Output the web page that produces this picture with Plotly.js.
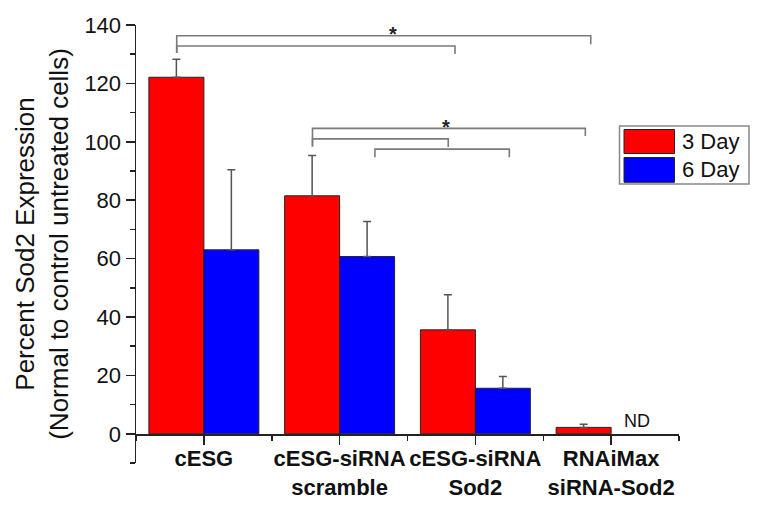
<!DOCTYPE html>
<html>
<head>
<meta charset="utf-8">
<script src="https://cdn.plot.ly/plotly-3.0.1.min.js"></script>
<style>
  html, body { margin: 0; padding: 0; background: #fff; }
  #chart { width: 765px; height: 509px; }
</style>
</head>
<body>
<div id="chart"></div>
<script>
// ---- data ----
var categories = ['cESG', 'cESG-siRNA<br>scramble', 'cESG-siRNA<br>Sod2', 'RNAiMax<br>siRNA-Sod2'];
var seriesNames = ['3 Day', '6 Day'];
var day3 = [122.1, 81.5, 35.6, 2.2];
var day3Err = [6.2, 13.8, 12.0, 1.1];
var day6 = [63.0, 60.7, 15.6, null];
var day6Err = [27.4, 12.0, 4.0, null];
var yTickVals = [0, 20, 40, 60, 80, 100, 120, 140];
var notDetectedLabel = 'ND';
// significance brackets: [xLeft, xRight, yLine, yLeftEnd, yRightEnd] in category/data units
var brackets = [
  [-0.2, 2.85, 136.3, 130.4, 133.4],
  [-0.2, 1.85, 132.8, 130.4, 130.1],
  [0.8, 2.81, 104.6, 98.4, 102.0],
  [0.8, 1.8, 101.0, 98.4, 98.2],
  [1.26, 2.25, 97.5, 94.7, 94.7]
];
// significance stars: [x, y]
var stars = [[1.39, 136.8], [1.78, 105.1]];

// ---- styles ----
var FONT = 'Arial, "Liberation Sans", sans-serif';
var RED = '#ff0000', BLUE = '#0000ff';
var AXIS = '#222222';
var catIdx = categories.map(function (_, i) { return i; });

// plot-area box in pixels (for legend placement in paper coordinates)
var L = 136, R = 679, T = 25, B = 463;
function px(x) { return (x - L) / (R - L); }
function py(y) { return (B - y) / (B - T); }

function zerosLike(a) { return a.map(function () { return 0; }); }

var traces = [
  {
    type: 'bar', name: seriesNames[0], x: catIdx, y: day3,
    marker: { color: RED, line: { color: '#222', width: 1 } },
    error_y: { type: 'data', symmetric: false, array: day3Err, arrayminus: zerosLike(day3Err),
               color: '#555', thickness: 1.5, width: 4 },
    hoverinfo: 'y'
  },
  {
    type: 'bar', name: seriesNames[1], x: catIdx, y: day6,
    marker: { color: BLUE, line: { color: '#222', width: 1 } },
    error_y: { type: 'data', symmetric: false, array: day6Err, arrayminus: zerosLike(day6Err),
               color: '#555', thickness: 1.5, width: 4 },
    hoverinfo: 'y'
  }
];

var shapes = [];
brackets.forEach(function (b) {
  shapes.push({
    type: 'path', xref: 'x', yref: 'y',
    path: 'M' + b[0] + ',' + b[3] + ' L' + b[0] + ',' + b[2] + ' L' + b[1] + ',' + b[2] + ' L' + b[1] + ',' + b[4],
    line: { color: '#7a7a7a', width: 1.6 }
  });
});

// custom legend (box + swatches)
shapes.push({ type: 'rect', xref: 'paper', yref: 'paper',
  x0: px(619.5), x1: px(749), y0: py(184), y1: py(126),
  line: { color: '#888', width: 1.5 }, fillcolor: '#fff' });
shapes.push({ type: 'rect', xref: 'paper', yref: 'paper',
  x0: px(624), x1: px(674.5), y0: py(153.5), y1: py(129.5),
  line: { color: '#222', width: 1 }, fillcolor: RED });
shapes.push({ type: 'rect', xref: 'paper', yref: 'paper',
  x0: px(624), x1: px(674.5), y0: py(182.3), y1: py(157.5),
  line: { color: '#222', width: 1 }, fillcolor: BLUE });

var annotations = [];
stars.forEach(function (s) {
  annotations.push({ x: s[0], y: s[1], xref: 'x', yref: 'y', text: '*', showarrow: false,
    xanchor: 'center', yanchor: 'middle', font: { family: FONT, size: 20, color: '#222', weight: 'bold' } });
});
annotations.push({ x: 3.19, y: 0, xref: 'x', yref: 'y', text: notDetectedLabel, showarrow: false,
  xanchor: 'center', yanchor: 'bottom', yshift: 1, font: { family: FONT, size: 18, color: '#111' } });
annotations.push({ x: px(680), y: py(141.5), xref: 'paper', yref: 'paper', text: seriesNames[0], showarrow: false,
  xanchor: 'left', yanchor: 'middle', font: { family: FONT, size: 22, color: '#111' } });
annotations.push({ x: px(680), y: py(170), xref: 'paper', yref: 'paper', text: seriesNames[1], showarrow: false,
  xanchor: 'left', yanchor: 'middle', font: { family: FONT, size: 22, color: '#111' } });

var layout = {
  width: 765, height: 509,
  margin: { l: L, r: 765 - R, t: T, b: 509 - B, pad: 0 },
  paper_bgcolor: '#fff', plot_bgcolor: '#fff',
  showlegend: false,
  barmode: 'group', bargap: 0.19, bargroupgap: 0,
  font: { family: FONT, color: '#111' },
  xaxis: {
    type: 'linear', range: [-0.5, 3.5], anchor: 'free', position: (B - 434) / (B - T),
    tickmode: 'array', tickvals: catIdx, ticktext: categories, tickangle: 0,
    ticks: 'outside', ticklen: 9, tickwidth: 1.5, tickcolor: AXIS,
    showline: true, linecolor: AXIS, linewidth: 1.5,
    showgrid: false, zeroline: false,
    tickfont: { family: FONT, size: 22, color: '#111', weight: 'bold' },
    ticklabelstandoff: -5,
    minor: { tickmode: 'linear', tick0: 0.5, dtick: 1, ticks: 'outside', ticklen: 5, tickwidth: 1.5, tickcolor: AXIS, showgrid: false },
    fixedrange: true
  },
  yaxis: {
    range: [-10, 140], tickmode: 'array', tickvals: yTickVals,
    ticks: 'outside', ticklen: 9, tickwidth: 1.5, tickcolor: AXIS,
    showline: true, linecolor: AXIS, linewidth: 1.5,
    showgrid: false, zeroline: false,
    tickfont: { family: FONT, size: 22, color: '#111' },
    minor: { tickmode: 'linear', tick0: 0, dtick: 10, ticks: 'outside', ticklen: 5, tickwidth: 1.5, tickcolor: AXIS, showgrid: false },
    title: { text: 'Percent Sod2 Expression<br>(Normal to control untreated cells)',
             font: { family: FONT, size: 26, color: '#111' }, standoff: 8 },
    fixedrange: true
  },
  shapes: shapes,
  annotations: annotations
};

Plotly.newPlot('chart', traces, layout, { displayModeBar: false, staticPlot: true });
</script>
</body>
</html>
